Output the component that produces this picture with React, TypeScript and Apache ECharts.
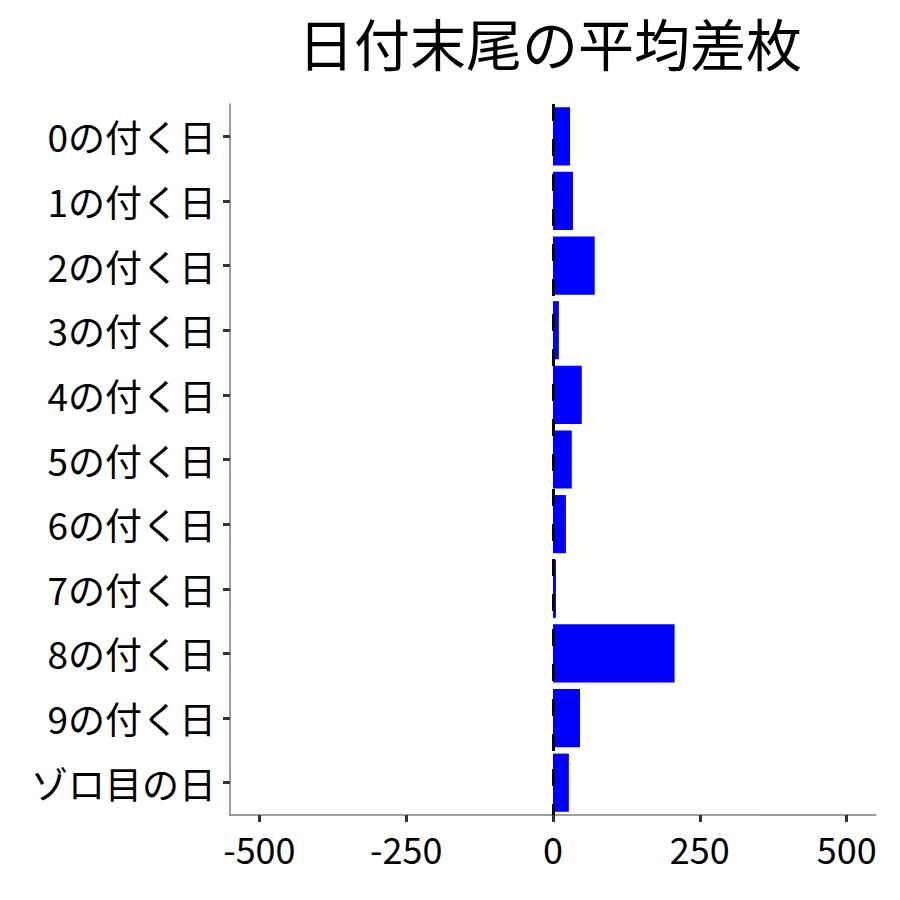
import * as echarts from 'echarts';
import React, { useEffect, useRef } from 'react';

const categories = [
  '0の付く日',
  '1の付く日',
  '2の付く日',
  '3の付く日',
  '4の付く日',
  '5の付く日',
  '6の付く日',
  '7の付く日',
  '8の付く日',
  '9の付く日',
  'ゾロ目の日',
];
const avgDiff = [29, 34, 71, 10, 49, 32, 22, 5, 207, 46, 27];
const xTicks = [-500, -250, 0, 250, 500];

const FONT = '"Noto Sans CJK JP", "Noto Sans", sans-serif';

const App: React.FC = () => {
  const chartRef = useRef<HTMLDivElement>(null);

  useEffect(() => {
    let chart: echarts.ECharts | undefined;
    if (chartRef.current) {
      chart = echarts.init(chartRef.current, undefined, { renderer: 'svg' });

      const option: echarts.EChartsOption = {
        animation: false,
        backgroundColor: '#fff',
        title: {
          text: '日付末尾の平均差枚',
          left: 545,
          top: 8,
          textAlign: 'center',
          textStyle: {
            fontFamily: FONT,
            fontSize: 56,
            fontWeight: 'normal',
            color: '#000',
          },
        },
        grid: {
          left: 230,
          right: 24,
          top: 104,
          bottom: 85,
          containLabel: false,
        },
        xAxis: {
          type: 'value',
          min: -550,
          max: 550,
          axisLine: { show: true, lineStyle: { color: '#7f7f7f', width: 1.5 } },
          axisTick: {
            show: true,
            customValues: xTicks,
            length: 7,
            lineStyle: { color: '#333', width: 3 },
          },
          axisLabel: {
            customValues: xTicks,
            fontFamily: FONT,
            fontSize: 36,
            color: '#000',
            margin: 15,
          },
          splitLine: { show: false },
        },
        yAxis: {
          type: 'category',
          data: categories,
          inverse: true,
          axisLine: {
            show: true,
            onZero: false,
            lineStyle: { color: '#7f7f7f', width: 1.5 },
          },
          axisTick: {
            show: true,
            alignWithLabel: true,
            length: 7,
            lineStyle: { color: '#333', width: 3 },
          },
          axisLabel: {
            fontFamily: FONT,
            fontSize: 37,
            color: '#000',
            margin: 14,
          },
        },
        series: [
          {
            name: '平均差枚',
            type: 'bar',
            data: avgDiff,
            barWidth: '90%',
            itemStyle: { color: '#0000ff' },
            markLine: {
              silent: true,
              symbol: 'none',
              label: { show: false },
              lineStyle: { color: '#000', width: 3, type: [17, 18] },
              data: [{ xAxis: 0 }],
            },
          },
        ],
      };

      chart.setOption(option);
    }
    return () => {
      chart?.dispose();
    };
  }, []);

  return (
    <div
      ref={chartRef}
      style={{ position: 'absolute', left: 0, top: 0, width: 900, height: 900 }}
    />
  );
};

export default App;
